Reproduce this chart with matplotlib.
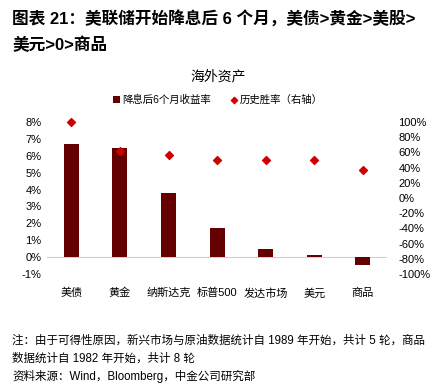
import matplotlib
matplotlib.use("Agg")
import matplotlib.pyplot as plt
from matplotlib.ticker import FuncFormatter

plt.rcParams['font.family'] = ['Liberation Sans', 'Noto Sans CJK SC']

# data
categories = ['美债', '黄金', '纳斯达克', '标普500', '发达市场', '美元', '商品']
returns_6m = [6.7, 6.45, 3.8, 1.75, 0.5, 0.15, -0.45]        # %, left axis
win_rate = [100, 62.5, 57.1, 50, 50, 50, 37.5]               # %, right axis

BAR_COLOR = '#650000'
DOT_COLOR = '#D00000'

fig = plt.figure(figsize=(4.36, 3.91), dpi=100)
ax = fig.add_axes([0.108, 0.299, 0.78, 0.389])
ax2 = ax.twinx()

x = list(range(len(categories)))
ax.bar(x, returns_6m, width=0.31, color=BAR_COLOR, zorder=2, label='降息后6个月收益率')
ax.axhline(0, color='#d0d0d0', lw=0.8, zorder=1)
ax2.scatter(x, win_rate, marker='D', s=16, color=DOT_COLOR, zorder=3,
            clip_on=False, label='历史胜率（右轴）')

ax.set_xlim(-0.5, len(categories) - 0.5)
ax.set_ylim(-1, 8)
ax.set_yticks(range(-1, 9))
ax.yaxis.set_major_formatter(FuncFormatter(lambda v, p: f'{int(v)}%'))
ax2.set_ylim(-100, 100)
ax2.set_yticks(range(-100, 101, 20))
ax2.yaxis.set_major_formatter(FuncFormatter(lambda v, p: f'{int(v)}%'))

ax.set_xticks(x)
ax.set_xticklabels(categories, fontsize=8)
for a in (ax, ax2):
    for s in a.spines.values():
        s.set_visible(False)
    a.tick_params(length=0, labelsize=8)
ax.tick_params(axis='x', pad=10)
ax.tick_params(axis='y', pad=4)
ax2.tick_params(axis='y', pad=8)

# legend
h1, l1 = ax.get_legend_handles_labels()
h2, l2 = ax2.get_legend_handles_labels()
fig.legend(h1 + h2, l1 + l2, loc='center', bbox_to_anchor=(0.5, 0.745), ncol=2,
           frameon=False, fontsize=7.5, handlelength=0.6, handletextpad=0.2,
           columnspacing=2.0, markerscale=0.8)

# titles and notes
fig.text(0.028, 0.954, '图表 21：美联储开始降息后 6 个月，美债>黄金>美股>', fontsize=12,
         fontweight='bold', va='center', ha='left')
fig.text(0.028, 0.885, '美元>0>商品', fontsize=12, fontweight='bold', va='center', ha='left')
fig.text(0.5, 0.805, '海外资产', fontsize=10, ha='center', va='center')

fig.text(0.028, 0.128, '注：由于可得性原因，新兴市场与原油数据统计自 1989 年开始，共计 5 轮，商品',
         fontsize=8.3, va='center', ha='left')
fig.text(0.028, 0.082, '数据统计自 1982 年开始，共计 8 轮', fontsize=8.3, va='center', ha='left')
fig.text(0.028, 0.036, '资料来源：Wind，Bloomberg，中金公司研究部', fontsize=8.3, va='center', ha='left')

fig.savefig('out.png', dpi=100)
